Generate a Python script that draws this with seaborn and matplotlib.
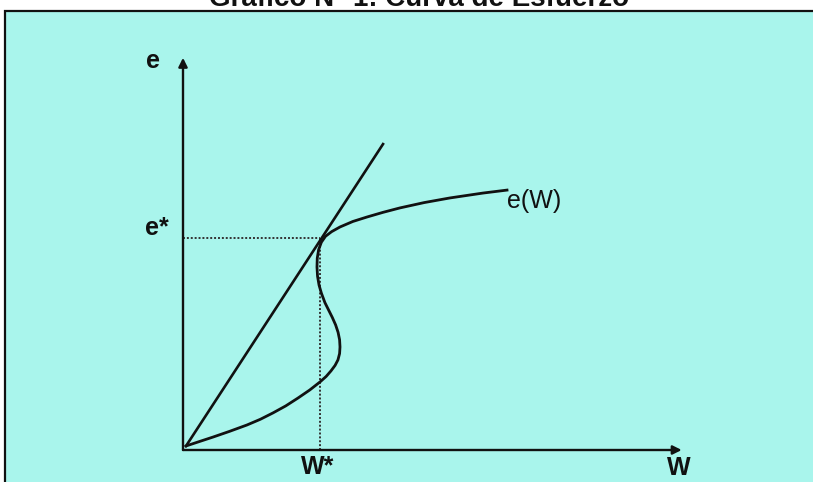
import numpy as np
import pandas as pd
import matplotlib
matplotlib.use('Agg')
import matplotlib.pyplot as plt
import seaborn as sns

# effort curve e(W) (W* = 1, e* = 1)
curve_w = [0.022, 0.120, 0.219, 0.340, 0.467, 0.565, 0.657, 0.750, 0.839, 0.925,
           1.000, 1.045, 1.080, 1.110, 1.131, 1.143, 1.146, 1.143, 1.132, 1.114,
           1.090, 1.063, 1.036, 1.010, 0.993, 0.982, 0.978, 0.980, 0.990, 1.010,
           1.040, 1.085, 1.146, 1.240, 1.343, 1.460, 1.584, 1.760, 1.949, 2.190,
           2.365]
curve_e = [0.019, 0.040, 0.061, 0.088, 0.118, 0.145, 0.175, 0.208, 0.245, 0.283,
           0.321, 0.347, 0.373, 0.399, 0.425, 0.455, 0.486, 0.520, 0.555, 0.590,
           0.625, 0.660, 0.695, 0.740, 0.778, 0.820, 0.863, 0.905, 0.945, 0.980,
           1.008, 1.030, 1.052, 1.078, 1.099, 1.121, 1.142, 1.167, 1.189, 1.212,
           1.226]

# ray from the origin, tangent at the Solow point
ray_w = [0.022, 1.460]
ray_e = [0.019, 1.443]

w_star = 1.0
e_star = 1.0
w_max = 3.64
e_max = 1.85

title = 'Gráfico N° 1: Curva de Esfuerzo'

df_curve = pd.DataFrame({'W': curve_w, 'e': curve_e})
df_ray = pd.DataFrame({'W': ray_w, 'e': ray_e})

plt.rcParams['font.family'] = ['Liberation Sans', 'DejaVu Sans']

fig = plt.figure(figsize=(8.13, 4.82), dpi=100)
fig.patch.set_facecolor('white')

# scanned cyan panel with its black frame (behind the axes)
panel = plt.Rectangle((5 / 813, -0.1), 1.2, (482 - 11) / 482 + 0.1,
                      transform=fig.transFigure, facecolor='#a9f5ec',
                      edgecolor='#111111', linewidth=1.6, zorder=-5)
fig.patches.append(panel)

# title is cut by the top edge in the scan
fig.text(419 / 813, 1 - 6 / 482, title, ha='center', va='baseline',
         fontsize=20, fontweight='bold', color='#111111')

ax = fig.add_axes([0, 0, 1, 1], zorder=1)
ax.set_facecolor('none')

# axes with arrows
arrow_kw = dict(arrowstyle='-|>', lw=1.7, color='#111111', mutation_scale=13,
                shrinkA=0, shrinkB=0)
ax.annotate('', xy=(w_max, 0), xytext=(0, 0), arrowprops=arrow_kw)
ax.annotate('', xy=(0, e_max), xytext=(0, 0), arrowprops=arrow_kw)

# dotted guides to the equilibrium
ax.plot([0, w_star], [e_star, e_star], color='#333333', lw=1.4, ls=(0, (1, 1)))
ax.plot([w_star, w_star], [0, e_star], color='#333333', lw=1.4, ls=(0, (1, 1)))

sns.lineplot(data=df_ray, x='W', y='e', ax=ax, color='#111111', lw=1.9,
             sort=False, estimator=None)
sns.lineplot(data=df_curve, x='W', y='e', ax=ax, color='#111111', lw=2.0,
             sort=False, estimator=None)
ax.set_xlim(-183 / 137, (813 - 183) / 137)
ax.set_ylim(-32 / 212, 450 / 212)
ax.axis('off')

lab = dict(fontsize=18, fontweight='bold', color='#111111', ha='center', va='center')
ax.text(-0.219, 1.835, 'e', **lab)
ax.text(-0.19, 1.047, 'e*', **lab)
ax.text(w_star - 0.02, -0.08, 'W*', **lab)
ax.text(3.62, -0.085, 'W', **lab)
ax.text(2.56, 1.175, 'e(W)', fontsize=18, color='#111111', ha='center', va='center')

fig.savefig('out.png', dpi=100)
